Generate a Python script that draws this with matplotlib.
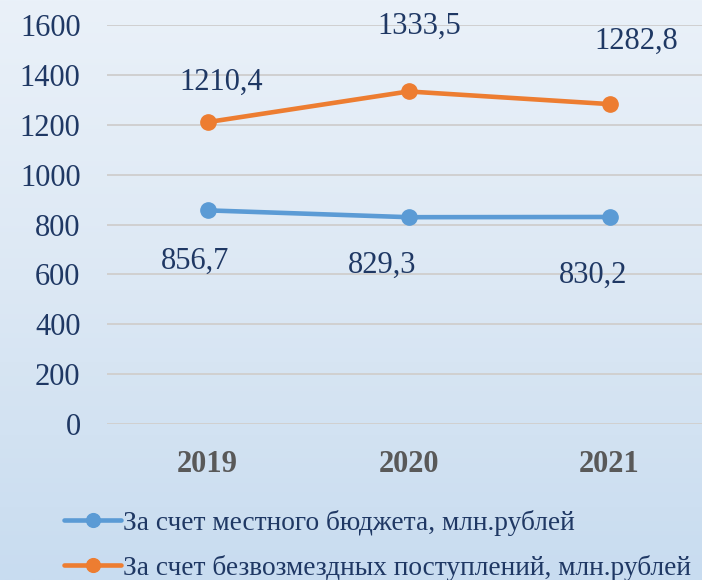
import numpy as np
import matplotlib
matplotlib.use("Agg")
import matplotlib.pyplot as plt
from matplotlib.colors import LinearSegmentedColormap

years = ["2019", "2020", "2021"]
local_budget = [856.7, 829.3, 830.2]
grants = [1210.4, 1333.5, 1282.8]
local_labels = ["856,7", "829,3", "830,2"]
grant_labels = ["1210,4", "1333,5", "1282,8"]
series_names = ["За счет местного бюджета, млн.рублей",
                "За счет безвозмездных поступлений, млн.рублей"]
yticks = [0, 200, 400, 600, 800, 1000, 1200, 1400, 1600]

plt.rcParams['font.family'] = ['Liberation Serif', 'DejaVu Serif']
NAVY = "#1F3864"
BLUE = "#5B9BD5"
ORANGE = "#ED7D31"

W, H = 702, 580
fig = plt.figure(figsize=(W / 100, H / 100), dpi=100)

# background gradient
bg = fig.add_axes([0, 0, 1, 1], zorder=-10)
cmap = LinearSegmentedColormap.from_list("bg", ["#EAF1F9", "#DCE8F4", "#C8DCF0"])
grad = np.linspace(0, 1, 256).reshape(-1, 1)
bg.imshow(grad, aspect="auto", cmap=cmap, extent=[0, 1, 0, 1], origin="upper")
bg.axis("off")

left = 107 / W
right_px = 710
top = 1 - 25 / H
bottom = 1 - 424 / H
ax = fig.add_axes([left, bottom, (right_px - 107) / W, top - bottom])
ax.set_facecolor("none")
x = np.arange(len(years))
ax.set_xlim(-0.5, len(years) - 0.5)
ax.set_ylim(0, 1600)
ax.set_yticks(yticks)
ax.yaxis.grid(True, color="#D0D0D0", linewidth=1.4)
ax.set_axisbelow(True)
for s in ax.spines.values():
    s.set_visible(False)
ax.tick_params(axis="both", length=0)
ax.tick_params(axis="y", labelsize=22, labelcolor=NAVY, pad=19)
ax.set_xticks(x)
ax.set_xticklabels(years, fontsize=22, fontweight="bold", color="#595959")
ax.tick_params(axis="x", pad=19)

l1, = ax.plot(x, local_budget, color=BLUE, lw=3.3, marker="o", ms=11,
              solid_capstyle="round", clip_on=False, label=series_names[0])
l2, = ax.plot(x, grants, color=ORANGE, lw=3.3, marker="o", ms=11,
              solid_capstyle="round", clip_on=False, label=series_names[1])

local_off = [(-9, -37), (-19, -35), (-12, -42)]
grant_off = [(10, 29), (8, 47), (19, 45)]
for xi, v, t, o in zip(x, local_budget, local_labels, local_off):
    ax.annotate(t, (xi, v), xytext=o, textcoords="offset points",
                ha="center", va="center", fontsize=22, color=NAVY)
for xi, v, t, o in zip(x, grants, grant_labels, grant_off):
    ax.annotate(t, (xi, v), xytext=o, textcoords="offset points",
                ha="center", va="center", fontsize=22, color=NAVY)

leg = fig.legend(handles=[l1, l2], loc="upper left",
                 bbox_to_anchor=(64 / W, 1 - 510 / H), frameon=False,
                 fontsize=19.7, handlelength=2.1, handletextpad=0.05,
                 labelspacing=0.68, borderpad=0, borderaxespad=0,
                 markerscale=0.9)
for t in leg.get_texts():
    t.set_color(NAVY)

fig.savefig("out.png", dpi=100)
